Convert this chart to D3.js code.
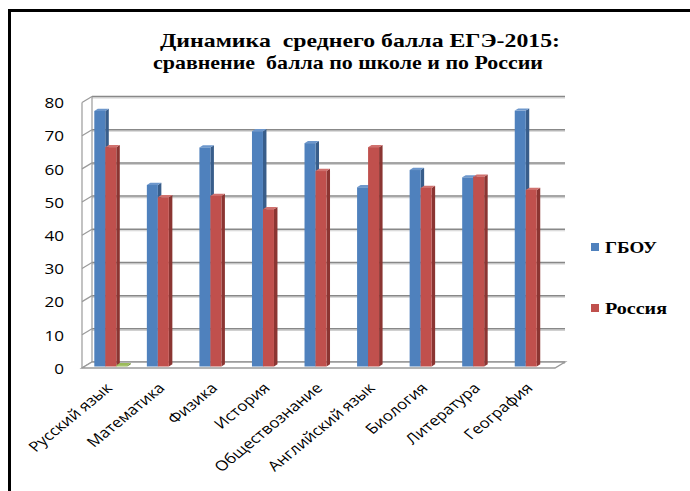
<!DOCTYPE html>
<html>
<head>
<meta charset="utf-8">
<script src="https://cdn.jsdelivr.net/npm/d3@7"></script>
<style>
  body { margin: 0; background: #fff; }
  svg { display: block; }
</style>
</head>
<body>
<script>
// data
var categories = ["Русский язык", "Математика", "Физика", "История", "Обществознание",
                  "Английский язык", "Биология", "Литература", "География"];
var seriesNames = ["ГБОУ", "Россия", "Ряд3"];
var gbou   = [77, 54.7, 66, 70.9, 67.3, 54, 59.2, 57, 77.1];
var russia = [66.1, 51, 51.4, 47.4, 58.9, 66.1, 53.8, 57.2, 53.2];
var extra  = [0.4, null, null, null, null, null, null, null, null];
var yTicks = [0, 10, 20, 30, 40, 50, 60, 70, 80];
var titleLines = ["Динамика  среднего балла ЕГЭ-2015:", "сравнение  балла по школе и по России"];

var W = 690, H = 491;
var colors = {
  "ГБОУ":   {front: "#4f81bd", side: "#385d8a", top: "#6d97cc"},
  "Россия": {front: "#c0504d", side: "#8b3532", top: "#d0716e"},
  "Ряд3":   {front: "#9bbb59", side: "#71893f", top: "#9bbb59"}
};
var sans = "'Open Sans', sans-serif";
var serif = "'Liberation Serif', 'Times New Roman', serif";

var svg = d3.select("body").append("svg").attr("width", W).attr("height", H);

// frame (right and bottom edges are cut off in the original)
svg.append("rect").attr("x", 9.5).attr("y", 10.5).attr("width", 720).attr("height", 520)
  .attr("fill", "#fff").attr("stroke", "#000").attr("stroke-width", 3);

// 3d depth of the plot box
var dx = 10, dy = -6;

var x0 = d3.scaleBand().domain(categories).range([82, 555]);
var x1 = d3.scaleBand().domain(seriesNames).range([9.8, 42.8]);
var y = d3.scaleLinear().domain([0, 80]).range([368, 102.5]);

// back wall gridlines
var grid = svg.append("g");
yTicks.forEach(function(t) {
  var yy = y(t) + dy;
  grid.append("line").attr("x1", 82 + dx).attr("x2", 555 + dx)
    .attr("y1", yy + 1.5).attr("y2", yy + 1.5).attr("stroke", "#d0d0d0").attr("stroke-width", 1.2);
  grid.append("line").attr("x1", 82 + dx).attr("x2", 555 + dx)
    .attr("y1", yy).attr("y2", yy).attr("stroke", "#888").attr("stroke-width", 1.5);
  // left wall diagonals
  grid.append("line").attr("x1", 82).attr("y1", y(t)).attr("x2", 82 + dx).attr("y2", yy)
    .attr("stroke", "#9a9a9a").attr("stroke-width", 1.2);
});
// left wall verticals
grid.append("line").attr("x1", 82).attr("x2", 82).attr("y1", y(80)).attr("y2", y(0))
  .attr("stroke", "#9a9a9a").attr("stroke-width", 1.2);
grid.append("line").attr("x1", 82 + dx).attr("x2", 82 + dx).attr("y1", y(80) + dy).attr("y2", y(0) + dy)
  .attr("stroke", "#9a9a9a").attr("stroke-width", 1.2);
// floor
grid.append("polygon")
  .attr("points", [[82, y(0)], [555, y(0)], [555 + dx, y(0) + dy], [82 + dx, y(0) + dy]].join(" "))
  .attr("fill", "#fff").attr("stroke", "#9a9a9a").attr("stroke-width", 1.4);

// bars
var fx = 2.5, fy = -1.5, bdx = 3.5, bdy = -2.2;
var rows = [];
categories.forEach(function(c, i) {
  rows.push({cat: c, s: "ГБОУ", v: gbou[i]});
  rows.push({cat: c, s: "Россия", v: russia[i]});
  if (extra[i] != null) rows.push({cat: c, s: "Ряд3", v: extra[i]});
});

var bars = svg.append("g").selectAll("g").data(rows).enter().append("g");
bars.each(function(d) {
  var g = d3.select(this);
  var xl = x0(d.cat) + x1(d.s) + fx;
  var xr = xl + x1.bandwidth();
  var yt = y(d.v) + fy, yb = y(0) + fy;
  var c = colors[d.s];
  g.append("polygon").attr("points", [[xr, yt], [xr + bdx, yt + bdy], [xr + bdx, yb + bdy], [xr, yb]].join(" "))
    .attr("fill", c.side);
  g.append("polygon").attr("points", [[xl, yt], [xl + bdx, yt + bdy], [xr + bdx, yt + bdy], [xr, yt]].join(" "))
    .attr("fill", c.top);
  g.append("rect").attr("x", xl).attr("y", yt).attr("width", x1.bandwidth()).attr("height", yb - yt)
    .attr("fill", c.front);
});

// y axis (the original image is a bit stretched sideways, so the text is too)
var yAxis = svg.append("g").attr("transform", "translate(64,0)")
  .call(d3.axisLeft(y).tickValues(yTicks).tickSize(0).tickPadding(0));
yAxis.select(".domain").remove();
yAxis.selectAll(".tick text")
  .attr("font-family", sans).attr("font-size", 14.5).attr("fill", "#000")
  .attr("dy", "0.36em")
  .attr("transform", "scale(1.18,1)");

// category labels
svg.append("g").selectAll("text").data(categories).enter().append("text")
  .attr("transform", function(d) {
    return "translate(" + (x0(d) + x0.bandwidth() / 2 + 5) + ",389) scale(1.22,1) rotate(-45)";
  })
  .attr("text-anchor", "end")
  .attr("font-family", sans).attr("font-size", 14)
  .attr("fill", "#000")
  .text(function(d) { return d; });

// title
var titleX = [360, 348], titleY = [47, 69], titleW = [400, 390];
svg.append("g").selectAll("text").data(titleLines).enter().append("text")
  .attr("x", function(d, i) { return titleX[i]; })
  .attr("y", function(d, i) { return titleY[i]; })
  .attr("text-anchor", "middle")
  .attr("font-family", serif)
  .attr("font-weight", "bold").attr("font-size", 19)
  .attr("textLength", function(d, i) { return titleW[i]; })
  .attr("lengthAdjust", "spacingAndGlyphs")
  .style("white-space", "pre")
  .text(function(d) { return d; });

// legend
var legendY = [247, 308], legendW = [52, 62];
var legend = svg.append("g").selectAll("g").data(seriesNames.slice(0, 2)).enter().append("g")
  .attr("transform", function(d, i) { return "translate(591," + legendY[i] + ")"; });
legend.append("rect").attr("x", 0).attr("y", -4).attr("width", 8).attr("height", 8)
  .attr("fill", function(d) { return colors[d].front; });
legend.append("text").attr("x", 14).attr("y", 5.5)
  .attr("font-family", serif)
  .attr("font-weight", "bold").attr("font-size", 16)
  .attr("textLength", function(d, i) { return legendW[i]; })
  .attr("lengthAdjust", "spacingAndGlyphs")
  .text(function(d) { return d; });
</script>
</body>
</html>
